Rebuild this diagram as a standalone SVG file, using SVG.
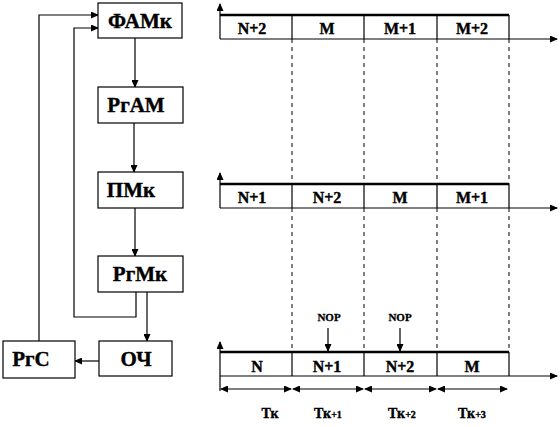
<svg xmlns="http://www.w3.org/2000/svg" width="560" height="427" viewBox="0 0 560 427">
<style>
.box{fill:#fff;stroke:#000;stroke-width:1.2}
.ln{fill:none;stroke:#000;stroke-width:1.2}
.thk{fill:none;stroke:#000;stroke-width:2.5}
.dash{fill:none;stroke:#000;stroke-width:1;stroke-dasharray:4,4}
text{font-family:'Liberation Serif','Times New Roman','DejaVu Serif',serif;font-weight:bold;text-anchor:middle;fill:#000;stroke:#000;stroke-width:0.4}
.bl{font-size:21px}
.cl{font-size:16px}
.nop{font-size:11px;stroke-width:0.3}
.tl{font-size:14px}
</style>
<defs>
<marker id="ah" markerWidth="8" markerHeight="7" refX="7" refY="3.5" orient="auto-start-reverse" markerUnits="userSpaceOnUse">
<path d="M0,0 L8,3.5 L0,7 Z" fill="#000"/>
</marker>
</defs>

<g id="connectors">
<line class="ln" x1="135" y1="38" x2="135" y2="87" marker-end="url(#ah)"/>
<line class="ln" x1="134" y1="123" x2="134" y2="172" marker-end="url(#ah)"/>
<line class="ln" x1="135" y1="208" x2="135" y2="256" marker-end="url(#ah)"/>
<line class="ln" x1="147" y1="292" x2="147" y2="341" marker-end="url(#ah)"/>
<polyline class="ln" points="136,292 136,317 74,317 74,28 98,28" marker-end="url(#ah)"/>
<line class="ln" x1="99" y1="361" x2="75" y2="361" marker-end="url(#ah)"/>
<polyline class="ln" points="39,341 39,15 98,15" marker-end="url(#ah)"/>
</g>

<g id="n-famk"><rect class="box" x="98" y="3" width="84" height="35"/><text class="bl" x="140" y="28">ФАМк</text></g>
<g id="n-rgam"><rect class="box" x="98" y="87" width="85" height="36"/><text class="bl" x="136" y="112">РгАМ</text></g>
<g id="n-pmk"><rect class="box" x="98" y="172" width="85" height="36"/><text class="bl" x="131" y="197">ПМк</text></g>
<g id="n-rgmk"><rect class="box" x="98" y="256" width="85" height="36"/><text class="bl" x="140" y="281">РгМк</text></g>
<g id="n-och"><rect class="box" x="99" y="341" width="73" height="35"/><text class="bl" x="136" y="366">ОЧ</text></g>
<g id="n-rgs"><rect class="box" x="3" y="341" width="72" height="37"/><text class="bl" x="31" y="366">РгС</text></g>

<g id="dashes">
<line class="dash" x1="292" y1="39" x2="292" y2="184"/>
<line class="dash" x1="364" y1="39" x2="364" y2="184"/>
<line class="dash" x1="437" y1="39" x2="437" y2="184"/>
<line class="dash" x1="509" y1="39" x2="509" y2="184"/>
<line class="dash" x1="292" y1="208" x2="292" y2="352"/>
<line class="dash" x1="364" y1="208" x2="364" y2="352"/>
<line class="dash" x1="437" y1="208" x2="437" y2="352"/>
<line class="dash" x1="509" y1="208" x2="509" y2="352"/>
</g>

<g id="row1">
<line class="ln" x1="220" y1="39" x2="220" y2="4" marker-end="url(#ah)"/>
<line class="ln" x1="220" y1="39" x2="557" y2="39" marker-end="url(#ah)"/>
<line class="thk" x1="220" y1="15" x2="509" y2="15"/>
<line class="ln" x1="292" y1="15" x2="292" y2="39"/>
<line class="ln" x1="364" y1="15" x2="364" y2="39"/>
<line class="ln" x1="437" y1="15" x2="437" y2="39"/>
<line class="ln" x1="509" y1="15" x2="509" y2="39"/>
<text class="cl" x="252" y="34">N+2</text>
<text class="cl" x="327" y="34">M</text>
<text class="cl" x="400" y="34">M+1</text>
<text class="cl" x="472" y="34">M+2</text>
</g>

<g id="row2">
<line class="ln" x1="220" y1="208" x2="220" y2="173" marker-end="url(#ah)"/>
<line class="ln" x1="220" y1="208" x2="557" y2="208" marker-end="url(#ah)"/>
<line class="thk" x1="220" y1="184" x2="509" y2="184"/>
<line class="ln" x1="292" y1="184" x2="292" y2="208"/>
<line class="ln" x1="364" y1="184" x2="364" y2="208"/>
<line class="ln" x1="437" y1="184" x2="437" y2="208"/>
<line class="ln" x1="509" y1="184" x2="509" y2="208"/>
<text class="cl" x="252" y="203">N+1</text>
<text class="cl" x="327" y="203">N+2</text>
<text class="cl" x="400" y="203">M</text>
<text class="cl" x="472" y="203">M+1</text>
</g>

<g id="row3">
<line class="ln" x1="220" y1="391" x2="220" y2="342" marker-end="url(#ah)"/>
<line class="ln" x1="220" y1="376" x2="557" y2="376" marker-end="url(#ah)"/>
<line class="thk" x1="220" y1="352" x2="509" y2="352"/>
<line class="ln" x1="292" y1="352" x2="292" y2="376"/>
<line class="ln" x1="364" y1="352" x2="364" y2="376"/>
<line class="ln" x1="437" y1="352" x2="437" y2="376"/>
<line class="ln" x1="509" y1="352" x2="509" y2="376"/>
<text class="cl" x="257" y="372">N</text>
<text class="cl" x="327" y="372">N+1</text>
<text class="cl" x="400" y="372">N+2</text>
<text class="cl" x="472" y="372">M</text>
<text class="nop" x="329" y="321">NOP</text>
<text class="nop" x="400" y="321">NOP</text>
<line class="ln" x1="328" y1="328" x2="328" y2="351" marker-end="url(#ah)"/>
<line class="ln" x1="400" y1="328" x2="400" y2="351" marker-end="url(#ah)"/>
<line class="ln" x1="221" y1="389" x2="291" y2="389" marker-start="url(#ah)" marker-end="url(#ah)"/>
<line class="ln" x1="293" y1="389" x2="363" y2="389" marker-start="url(#ah)" marker-end="url(#ah)"/>
<line class="ln" x1="365" y1="389" x2="436" y2="389" marker-start="url(#ah)" marker-end="url(#ah)"/>
<line class="ln" x1="438" y1="389" x2="507" y2="389" marker-start="url(#ah)" marker-end="url(#ah)"/>
<text class="tl" x="270" y="418">Тк</text>
<text class="tl" x="328" y="418">Тк<tspan font-size="10">+1</tspan></text>
<text class="tl" x="402" y="418">Тк<tspan font-size="10">+2</tspan></text>
<text class="tl" x="472" y="418">Тк<tspan font-size="10">+3</tspan></text>
</g>
</svg>
